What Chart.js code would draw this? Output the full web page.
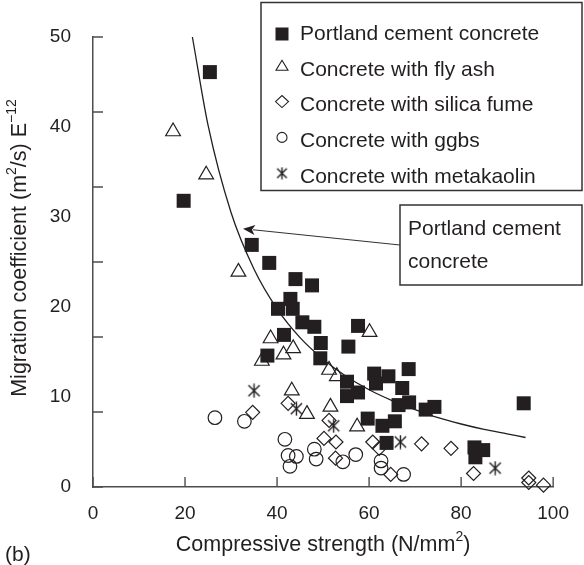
<!DOCTYPE html>
<html>
<head>
<meta charset="utf-8">
<script src="https://cdn.jsdelivr.net/npm/chart.js@4.4.1/dist/chart.umd.min.js"></script>
<style>
  html, body { margin: 0; padding: 0; background: #fff; }
  canvas { display: block; }
</style>
</head>
<body>
<canvas id="myChart" width="584" height="565"></canvas>
<script>
const INK = '#231f20';
const AXIS = '#4d4d4d';
const FONT = '"Liberation Sans", Arial, Helvetica, sans-serif';

// Portland cement concrete (filled squares)
const portlandX = [25.4, 19.7, 34.5, 38.3, 44.0, 47.6, 42.9, 40.2, 43.4, 45.5, 48.1, 57.6, 41.5, 49.5, 55.5, 37.9, 49.4,
  55.2, 55.2, 57.6, 61.1, 61.5, 64.2, 68.6, 67.2, 68.7, 66.4, 72.3, 74.2, 93.6, 59.7, 62.9, 65.6, 63.8, 82.9, 84.8, 83.1];
const portlandY = [46.1, 31.8, 26.9, 24.9, 23.1, 22.4, 20.9, 19.8, 19.8, 18.3, 17.8, 17.9, 16.9, 16.0, 15.6, 14.6, 14.3,
  11.7, 10.1, 10.5, 12.6, 11.5, 12.3, 13.1, 11.0, 9.4, 9.1, 8.6, 8.9, 9.3, 7.6, 6.8, 7.3, 4.9, 4.4, 4.1, 3.3];

// Concrete with fly ash (open triangles)
const flyAshX = [17.4, 24.6, 31.6, 38.6, 43.5, 41.4, 36.7, 51.3, 53.0, 60.1, 43.2, 46.5, 51.6, 57.4];
const flyAshY = [39.5, 34.7, 23.9, 16.5, 15.4, 14.7, 14.0, 13.0, 12.3, 17.2, 10.7, 8.1, 8.9, 6.7];

// Concrete with silica fume (open diamonds)
const silicaX = [34.7, 42.4, 51.3, 50.2, 52.8, 52.7, 60.8, 62.2, 64.7, 71.4, 77.8, 82.7, 94.7, 94.7, 97.9];
const silicaY = [8.3, 9.3, 7.4, 5.4, 5.0, 3.2, 5.0, 4.3, 1.4, 4.8, 4.3, 1.5, 1.0, 0.5, 0.2];

// Concrete with ggbs (open circles)
const ggbsX = [26.5, 32.9, 41.7, 42.4, 44.2, 42.8, 48.1, 48.5, 54.3, 57.1, 62.6, 62.6, 67.5];
const ggbsY = [7.7, 7.3, 5.3, 3.5, 3.4, 2.3, 4.2, 3.1, 2.8, 3.6, 2.9, 2.1, 1.4];

// Concrete with metakaolin (asterisks)
const metakaolinX = [35.0, 44.2, 52.3, 66.8, 87.4];
const metakaolinY = [10.7, 8.7, 6.8, 5.0, 2.1];

// Fitted curve for Portland cement concrete
const curveX = [21.6, 25, 30, 35, 40, 45, 50, 55, 60, 65, 70, 75, 80, 85, 90, 94];
const curveY = [50, 40.2, 30.5, 24.2, 19.8, 16.6, 14.2, 12.3, 10.8, 9.6, 8.6, 7.7, 7.0, 6.4, 5.9, 5.5];

const xTicks = [0, 20, 40, 60, 80, 100];
const yTicks = [0, 10, 20, 30, 40, 50];
const yTickMarkCount = 6; // the original's tick marks split 0-50 into six parts

const legendLabels = [
  'Portland cement concrete',
  'Concrete with fly ash',
  'Concrete with silica fume',
  'Concrete with ggbs',
  'Concrete with metakaolin'
];
const arrowTip = { x: 32.6, y: 28.7 };

function toPoints(xs, ys) {
  return xs.map((x, i) => ({ x: x, y: ys[i] }));
}

function makeAsterisk(size) {
  const c = document.createElement('canvas');
  c.width = size;
  c.height = size;
  const g = c.getContext('2d');
  g.strokeStyle = INK;
  g.lineWidth = 1.4;
  const m = size / 2, r = size / 2 - 0.5, d = r * 0.8;
  g.beginPath();
  g.moveTo(m, m - r); g.lineTo(m, m + r);
  g.moveTo(m - d, m - d); g.lineTo(m + d, m + d);
  g.moveTo(m + d, m - d); g.lineTo(m - d, m + d);
  g.stroke();
  return c;
}
const asteriskImg = makeAsterisk(15);

function drawRich(ctx, parts, cx, cy, size) {
  const supSize = Math.round(size * 0.65);
  let w = 0;
  parts.forEach(p => {
    ctx.font = (p[1] ? supSize : size) + 'px ' + FONT;
    w += ctx.measureText(p[0]).width;
  });
  let x = cx - w / 2;
  ctx.textAlign = 'left';
  ctx.textBaseline = 'middle';
  parts.forEach(p => {
    ctx.font = (p[1] ? supSize : size) + 'px ' + FONT;
    ctx.fillText(p[0], x, p[1] ? cy - size * 0.36 : cy);
    x += ctx.measureText(p[0]).width;
  });
}

function legendMarker(ctx, i, x, y) {
  ctx.save();
  ctx.strokeStyle = INK;
  ctx.fillStyle = INK;
  ctx.lineWidth = 1.1;
  ctx.beginPath();
  if (i === 0) {
    ctx.fillRect(x - 6.5, y - 6.5, 13, 13);
  } else if (i === 1) {
    ctx.moveTo(x, y - 5.5); ctx.lineTo(x + 6, y + 4.5); ctx.lineTo(x - 6, y + 4.5); ctx.closePath();
    ctx.stroke();
  } else if (i === 2) {
    ctx.moveTo(x - 6.5, y); ctx.lineTo(x, y - 6); ctx.lineTo(x + 6.5, y); ctx.lineTo(x, y + 6); ctx.closePath();
    ctx.stroke();
  } else if (i === 3) {
    ctx.arc(x, y, 5, 0, Math.PI * 2);
    ctx.stroke();
  } else {
    ctx.drawImage(makeAsterisk(13), x - 6.5, y - 6.5);
  }
  ctx.restore();
}

const decorations = {
  id: 'decorations',
  afterDraw(chart) {
    const ctx = chart.ctx;
    const xs = chart.scales.x, ys = chart.scales.y;
    ctx.save();

    // inward tick marks
    ctx.strokeStyle = AXIS;
    ctx.lineWidth = 1.4;
    ctx.beginPath();
    xTicks.forEach(v => {
      const px = xs.getPixelForValue(v);
      ctx.moveTo(px, ys.bottom);
      ctx.lineTo(px, ys.bottom - 10);
    });
    for (let k = 0; k <= yTickMarkCount; k++) {
      const py = ys.getPixelForValue(50 * k / yTickMarkCount);
      ctx.moveTo(xs.left, py);
      ctx.lineTo(xs.left + 10, py);
    }
    ctx.stroke();

    // axis titles
    ctx.fillStyle = INK;
    drawRich(ctx, [['Compressive strength (N/mm', false], ['2', true], [')', false]],
      (xs.left + xs.right) / 2, 545, 21.5);
    ctx.save();
    ctx.translate(20, 248);
    ctx.rotate(-Math.PI / 2);
    drawRich(ctx, [['Migration coefficient (m', false], ['2', true], ['/s) E', false], ['\u221212', true]], 0, 0, 21.5);
    ctx.restore();
    ctx.font = '21px ' + FONT;
    ctx.textAlign = 'left';
    ctx.textBaseline = 'middle';
    ctx.fillText('(b)', 5, 555);

    // legend box
    ctx.strokeStyle = '#333';
    ctx.lineWidth = 1.5;
    ctx.strokeRect(261, 2.5, 321, 188);
    legendLabels.forEach((label, i) => {
      const y = 34 + i * 35.8;
      legendMarker(ctx, i, 282, i === 0 ? y : y - 4);
      ctx.fillStyle = INK;
      ctx.font = '21px ' + FONT;
      ctx.textAlign = 'left';
      ctx.textBaseline = 'middle';
      ctx.fillText(label, 300, y);
    });

    // annotation box with arrow
    ctx.strokeStyle = '#333';
    ctx.strokeRect(400, 205, 182, 80);
    ctx.fillText('Portland cement', 408, 229);
    ctx.fillText('concrete', 408, 262);
    const tx = xs.getPixelForValue(arrowTip.x), ty = ys.getPixelForValue(arrowTip.y);
    const sx = 400, sy = 245;
    const ang = Math.atan2(sy - ty, sx - tx);
    ctx.lineWidth = 1.2;
    ctx.beginPath();
    ctx.moveTo(sx, sy);
    ctx.lineTo(tx + Math.cos(ang) * 10, ty + Math.sin(ang) * 10);
    ctx.stroke();
    ctx.beginPath();
    ctx.moveTo(tx, ty);
    ctx.lineTo(tx + Math.cos(ang + 0.4) * 13, ty + Math.sin(ang + 0.4) * 13);
    ctx.lineTo(tx + Math.cos(ang) * 9, ty + Math.sin(ang) * 9);
    ctx.lineTo(tx + Math.cos(ang - 0.4) * 13, ty + Math.sin(ang - 0.4) * 13);
    ctx.closePath();
    ctx.fillStyle = INK;
    ctx.fill();

    ctx.restore();
  }
};

const hollow = {
  backgroundColor: 'rgba(0,0,0,0)',
  borderColor: INK,
  borderWidth: 1.2,
  clip: false
};

new Chart(document.getElementById('myChart').getContext('2d'), {
  type: 'scatter',
  data: {
    datasets: [
      { label: legendLabels[0], data: toPoints(portlandX, portlandY), pointStyle: 'rect', pointRadius: 9.9,
        backgroundColor: INK, borderColor: INK, borderWidth: 0, clip: false },
      Object.assign({ label: legendLabels[1], data: toPoints(flyAshX, flyAshY), pointStyle: 'triangle', pointRadius: 8.5 }, hollow),
      Object.assign({ label: legendLabels[2], data: toPoints(silicaX, silicaY), pointStyle: 'rectRot', pointRadius: 7 }, hollow),
      Object.assign({ label: legendLabels[3], data: toPoints(ggbsX, ggbsY), pointStyle: 'circle', pointRadius: 6.8 }, hollow),
      Object.assign({ label: legendLabels[4], data: toPoints(metakaolinX, metakaolinY), pointStyle: asteriskImg, pointRadius: 7 }, hollow),
      { label: 'fit', data: toPoints(curveX, curveY), showLine: true, pointRadius: 0, borderColor: INK,
        borderWidth: 1.3, tension: 0.4, cubicInterpolationMode: 'monotone', fill: false, order: 10, clip: false }
    ]
  },
  options: {
    responsive: false,
    animation: false,
    devicePixelRatio: 1,
    events: [],
    layout: { padding: { top: 37, right: 19, left: 0, bottom: 0 } },
    plugins: { legend: { display: false }, tooltip: { enabled: false } },
    scales: {
      x: {
        type: 'linear', min: 0, max: 100,
        grid: { display: false, drawTicks: false },
        border: { display: true, color: AXIS, width: 1.5 },
        ticks: { stepSize: 20, color: INK, font: { family: FONT, size: 19 }, padding: 15 },
        afterBuildTicks: s => { s.ticks = xTicks.map(v => ({ value: v })); },
        afterFit: s => { s.height = 78; }
      },
      y: {
        type: 'linear', min: 0, max: 50,
        grid: { display: false, drawTicks: false },
        border: { display: true, color: AXIS, width: 1.5 },
        ticks: { stepSize: 10, color: INK, font: { family: FONT, size: 19 }, padding: 22 },
        afterBuildTicks: s => { s.ticks = yTicks.map(v => ({ value: v })); },
        afterFit: s => { s.width = 93; }
      }
    }
  },
  plugins: [decorations]
});
</script>
</body>
</html>
